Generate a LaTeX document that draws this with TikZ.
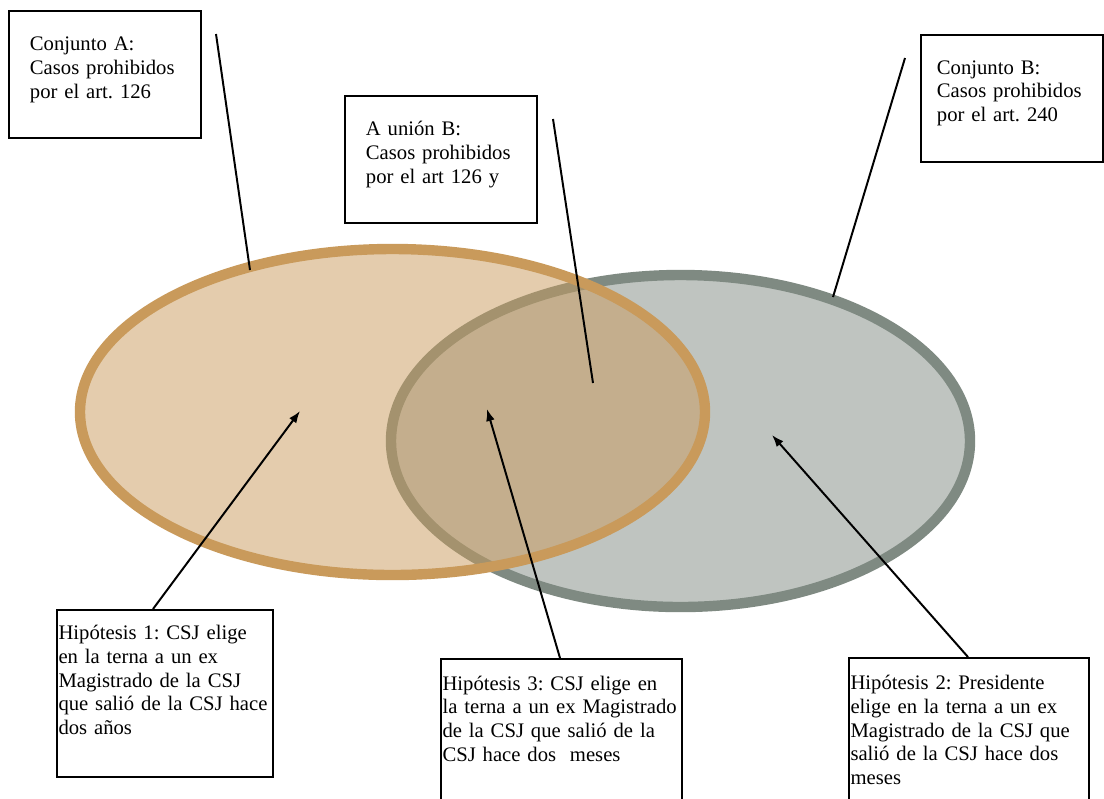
\documentclass[tikz,border=0pt]{standalone}
\usepackage{fontspec}
\setmainfont{Liberation Serif}
\usetikzlibrary{arrows, arrows.meta, calc, positioning}
\definecolor{setOrange}{HTML}{C99A5B}
\definecolor{setGray}{HTML}{7F8A82}
\frenchspacing
\hyphenpenalty=10000

\begin{document}
\begin{tikzpicture}[
    x=0.025cm, y=-0.025cm,
    box/.style={rectangle, draw=black, line width=1.3pt, anchor=north west, align=left, inner ysep=0pt, font=\fontsize{14.7}{16.8}\selectfont},
    set/.style={line width=7.4pt},
    pointer/.style={line width=1.4pt, black},
    arrow/.style={line width=1.4pt, -{Latex[length=0.3cm, width=0.22cm]}, black}
]
    \clip (0,0) rectangle (1104,798);

    % the two sets
    \draw[set, draw=setGray, fill=setGray, fill opacity=0.5] (680.5,441) ellipse [x radius=289.5, y radius=166];
    \draw[set, draw=setOrange, fill=setOrange, fill opacity=0.5] (392.5,412) ellipse [x radius=312.5, y radius=163];

    \node[box, text width=3.75cm, inner xsep=0.525cm, text height=1.0cm, text depth=2.175cm] (conjA) at (8,10) {Conjunto A:\\Casos prohibidos\\por el art. 126};
    \node[box, text width=3.75cm, inner xsep=0.525cm, text height=1.0cm, text depth=2.175cm] (union) at (344,95) {A unión B:\\Casos prohibidos\\por el art 126 y};
    \node[box, text width=3.75cm, inner xsep=0.4cm, text height=0.98cm, text depth=2.195cm] (conjB) at (920,34) {Conjunto B:\\Casos prohibidos\\por el art. 240};

    \node[box, text width=5.32cm, inner xsep=0.04cm, text height=0.75cm, text depth=3.425cm] (hipo1) at (56,609) {Hipótesis 1: CSJ elige\\en la terna a un ex\\Magistrado de la CSJ\\que salió de la CSJ hace\\dos años};
    \node[box, text width=5.945cm, inner xsep=0.04cm, text height=0.78cm, text depth=3.5cm] (hipo3) at (440,658) {Hipótesis 3: CSJ elige en\\la terna a un ex Magistrado\\de la CSJ que salió de la\\CSJ hace dos~ meses};
    \node[box, text width=5.92cm, inner xsep=0.04cm, text height=0.8cm, text depth=3.5cm] (hipo2) at (848,657) {Hipótesis 2: Presidente\\elige en la terna a un ex\\Magistrado de la CSJ que\\salió de la CSJ hace dos\\meses};

    % pointers to the sets
    \coordinate (conjAtail) at (216,34);
    \coordinate (conjAtip) at (250,270);
    \coordinate (uniontail) at (553,119);
    \coordinate (uniontip) at (593,383);
    \coordinate (conjBtail) at (905,58);
    \coordinate (conjBtip) at (833,297);
    \draw[pointer] (conjAtail) -- (conjAtip);
    \draw[pointer] (uniontail) -- (uniontip);
    \draw[pointer] (conjBtail) -- (conjBtip);

    % hypotheses
    \coordinate (hipo1in) at (300,411);
    \coordinate (hipo3in) at (487,409);
    \coordinate (hipo2in) at (772,435);
    \draw[arrow] ($(hipo1.north west)+(97,0)$) -- (hipo1in);
    \draw[arrow] ($(hipo3.north west)+(120,0)$) -- (hipo3in);
    \draw[arrow] ($(hipo2.north west)+(120,0)$) -- (hipo2in);
\end{tikzpicture}
\end{document}
